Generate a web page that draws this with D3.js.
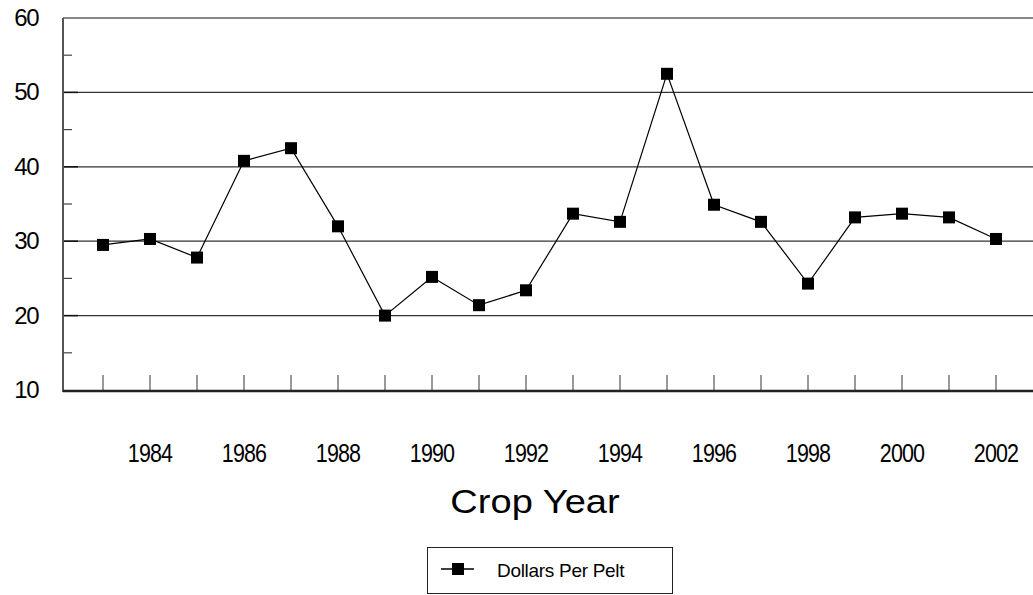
<!DOCTYPE html>
<html>
<head>
<meta charset="utf-8">
<script src="https://cdn.jsdelivr.net/npm/d3@7"></script>
<style>
  html, body { margin: 0; padding: 0; background: #fff; }
  svg { display: block; font-family: "Liberation Sans", Arial, sans-serif; }
</style>
</head>
<body>
<svg id="chart" width="1033" height="595"></svg>
<script>
// ---- data ----
const years = [1983,1984,1985,1986,1987,1988,1989,1990,1991,1992,1993,1994,1995,1996,1997,1998,1999,2000,2001,2002];
const dollarsPerPelt = [29.5,30.3,27.8,40.8,42.5,32.0,20.0,25.2,21.4,23.4,33.7,32.6,52.5,34.9,32.6,24.3,33.2,33.7,33.2,30.3];
const yTickValues = [10,20,30,40,50,60];
const yMinorTicks = [15,25,35,45,55];
const xLabelYears = [1984,1986,1988,1990,1992,1994,1996,1998,2000,2002];
const seriesName = "Dollars Per Pelt";
const axisTitle = "Crop Year";

// ---- layout ----
const svg = d3.select("#chart");
const plotLeft = 63, plotRight = 1033, plotTop = 18, plotBottom = 390;
const x = d3.scaleLinear().domain([1983, 2002]).range([103, 996]);
const y = d3.scaleLinear().domain([10, 60]).range([plotBottom, plotTop]);

// gridlines
svg.append("g").selectAll("line").data(yTickValues.filter(v => v > 10)).join("line")
  .attr("x1", plotLeft).attr("x2", plotRight)
  .attr("y1", d => y(d)).attr("y2", d => y(d))
  .attr("stroke", d => d === 60 ? "#111" : "#333").attr("stroke-width", 1.2);

// major tick stubs (darker)
svg.append("g").selectAll("line").data(yTickValues.filter(v => v > 10 && v < 60)).join("line")
  .attr("x1", plotLeft).attr("x2", plotLeft + 15)
  .attr("y1", d => y(d)).attr("y2", d => y(d))
  .attr("stroke", "#111").attr("stroke-width", 1.5);

// minor y ticks
svg.append("g").selectAll("line").data(yMinorTicks).join("line")
  .attr("x1", plotLeft).attr("x2", plotLeft + 9)
  .attr("y1", d => y(d)).attr("y2", d => y(d))
  .attr("stroke", "#444").attr("stroke-width", 1.2);

// x ticks
svg.append("g").selectAll("line").data(years).join("line")
  .attr("x1", d => x(d)).attr("x2", d => x(d))
  .attr("y1", plotBottom - 15).attr("y2", plotBottom)
  .attr("stroke", "#555").attr("stroke-width", 1.2);

// y axis line
svg.append("line").attr("x1", plotLeft).attr("x2", plotLeft).attr("y1", plotTop).attr("y2", plotBottom + 2)
  .attr("stroke", "#555").attr("stroke-width", 2);

// x axis line (thick)
svg.append("line").attr("x1", plotLeft).attr("x2", plotRight).attr("y1", plotBottom + 1).attr("y2", plotBottom + 1)
  .attr("stroke", "#222").attr("stroke-width", 2.6);

// y labels
svg.append("g").selectAll("text").data(yTickValues).join("text")
  .attr("x", 38).attr("y", d => y(d) + 8)
  .attr("text-anchor", "end").attr("font-size", 24).attr("letter-spacing", -1.5)
  .attr("fill", "#000").text(d => d);

// x labels
svg.append("g").selectAll("text").data(xLabelYears).join("text")
  .attr("transform", d => `translate(${x(d)},462) scale(0.86,1)`)
  .attr("text-anchor", "middle").attr("font-size", 25).attr("letter-spacing", -1)
  .attr("fill", "#000").text(d => d);

// axis title
svg.append("text").attr("transform", "translate(535,513) scale(1.12,1)")
  .attr("text-anchor", "middle").attr("font-size", 34)
  .attr("fill", "#000").text(axisTitle);

// series line
const line = d3.line().x((d, i) => x(years[i])).y(d => y(d));
svg.append("path").datum(dollarsPerPelt).attr("d", line)
  .attr("fill", "none").attr("stroke", "#000").attr("stroke-width", 1.2);

// markers
const ms = 12;
svg.append("g").selectAll("rect").data(dollarsPerPelt).join("rect")
  .attr("x", (d, i) => x(years[i]) - ms / 2).attr("y", d => y(d) - ms / 2)
  .attr("width", ms).attr("height", ms).attr("fill", "#000");

// legend
const lg = svg.append("g");
lg.append("rect").attr("x", 427.5).attr("y", 547.5).attr("width", 245).attr("height", 46)
  .attr("fill", "#fff").attr("stroke", "#222").attr("stroke-width", 1);
lg.append("line").attr("x1", 441).attr("x2", 474).attr("y1", 569).attr("y2", 569)
  .attr("stroke", "#000").attr("stroke-width", 1.5);
lg.append("rect").attr("x", 458 - 6).attr("y", 569 - 6).attr("width", 12).attr("height", 12).attr("fill", "#000");
lg.append("text").attr("x", 497).attr("y", 577).attr("font-size", 19).attr("letter-spacing", -0.3)
  .attr("fill", "#000").text(seriesName);
</script>
</body>
</html>
